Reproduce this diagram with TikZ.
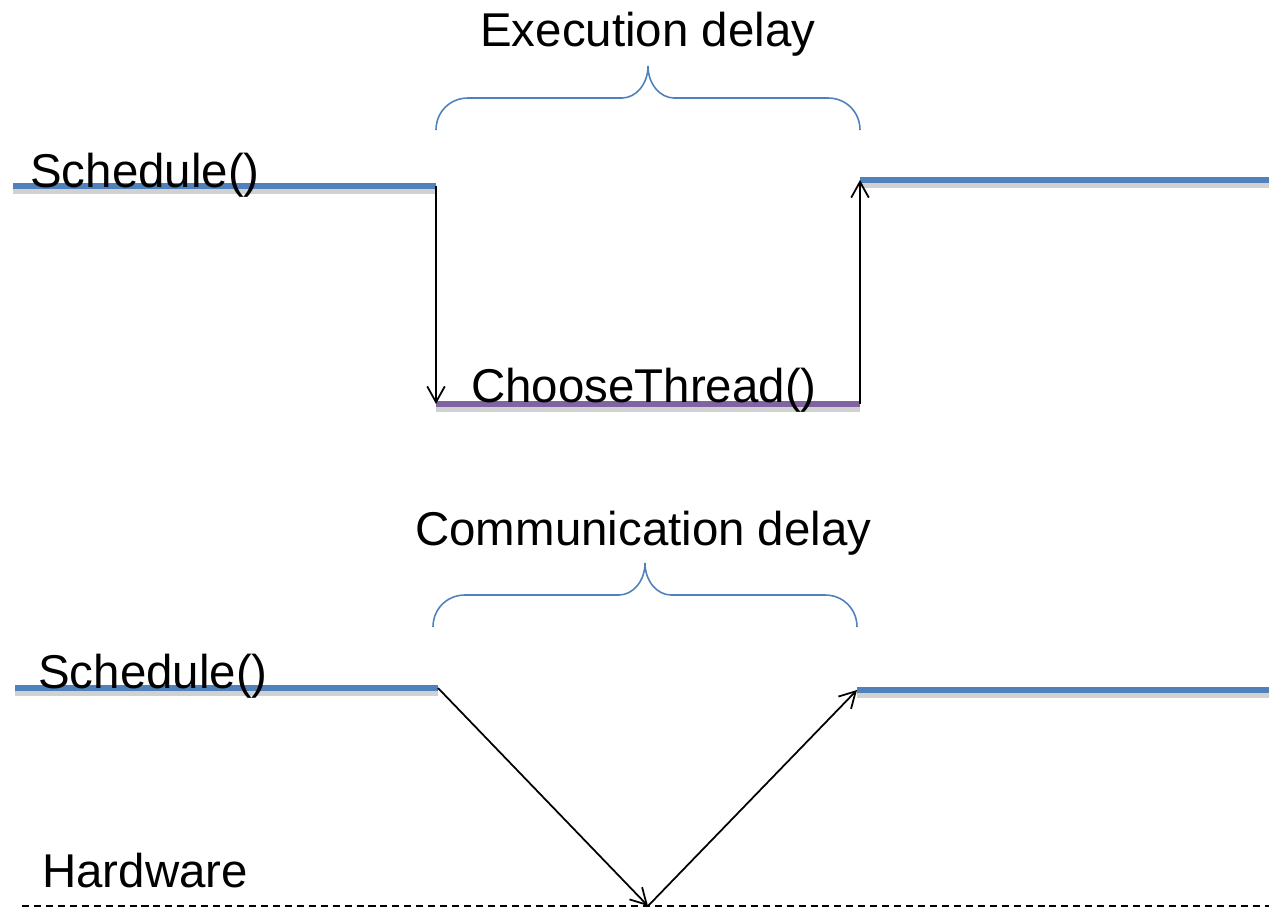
\documentclass[tikz,border=0pt]{standalone}
\usepackage{fontspec}
\setmainfont{Liberation Sans}
\usetikzlibrary{arrows.meta,positioning,calc}
\definecolor{schedblue}{RGB}{79,129,189}
\definecolor{choosepurple}{RGB}{128,100,162}

\begin{document}
\begin{tikzpicture}[x=0.02cm,y=-0.02cm,
	lbl/.style={font=\fontsize{27}{32}\selectfont,inner sep=0pt,anchor=base west},
	shadowed/.style={preaction={draw=black!18,line width=4.4pt,transform canvas={yshift=-2.4pt}}},
	level/.style={shadowed,draw=schedblue,line width=3.4pt},
	flow/.style={line width=1pt,-{Straight Barb[length=9pt,width=10pt]}},
	delaybrace/.style={draw=schedblue,line width=0.9pt}]
		
		\useasboundingbox (0,0) rectangle (1269,909);
		
		% top: execution delay
		\coordinate (s1a) at (13,186);
		\coordinate (s1b) at (436,186);
		\coordinate (c1a) at (436,404);
		\coordinate (c1b) at (860,404);
		\coordinate (r1a) at (860,180);
		\coordinate (r1b) at (1269,180);
		
		\draw[level] (s1a) -- (s1b);
		\draw[level] (r1a) -- (r1b);
		\draw[level,draw=choosepurple] (c1a) -- (c1b);
		
		\draw[flow] (s1b) -- (c1a);
		\draw[flow] (c1b) -- (r1a);
		
		\draw[delaybrace] (436,130) .. controls (436,112) and (450,98) .. (468,98) -- (622,98)
		.. controls (636,98) and (648,84) .. (648,66) .. controls (648,84) and (660,98) .. (674,98)
		-- (828,98) .. controls (846,98) and (860,112) .. (860,130);
		
		\node[lbl] (exec) at (480,47) {Execution delay};
		\node[lbl] (sched1) at (30,188) {Schedule()};
		\node[lbl] (choose) at (471,402) {ChooseThread()};
		
		% bottom: communication delay
		\coordinate (s2a) at (15,688);
		\coordinate (s2b) at (438,688);
		\coordinate (r2a) at (857,690);
		\coordinate (r2b) at (1269,690);
		\coordinate (hwpt) at (648,906);
		\coordinate (hwa) at (22,906);
		\coordinate (hwb) at (1269,906);
		
		\draw[level] (s2a) -- (s2b);
		\draw[level] (r2a) -- (r2b);
		\draw[dash pattern=on 4pt off 2.8pt,line width=0.6pt] (hwa) -- (hwb);
		
		\draw[flow] (s2b) -- (hwpt);
		\draw[flow] (hwpt) -- (r2a);
		
		\draw[delaybrace] (433,627) .. controls (433,609) and (447,595) .. (465,595) -- (619,595)
		.. controls (633,595) and (645,581) .. (645,563) .. controls (645,581) and (657,595) .. (671,595)
		-- (825,595) .. controls (843,595) and (857,609) .. (857,627);
		
		\node[lbl] (comm) at (415,545) {Communication delay};
		\node[lbl] (sched2) at (38,688) {Schedule()};
		\node[lbl] (hw) at (42,887) {Hardware};
		
	\end{tikzpicture}
\end{document}
